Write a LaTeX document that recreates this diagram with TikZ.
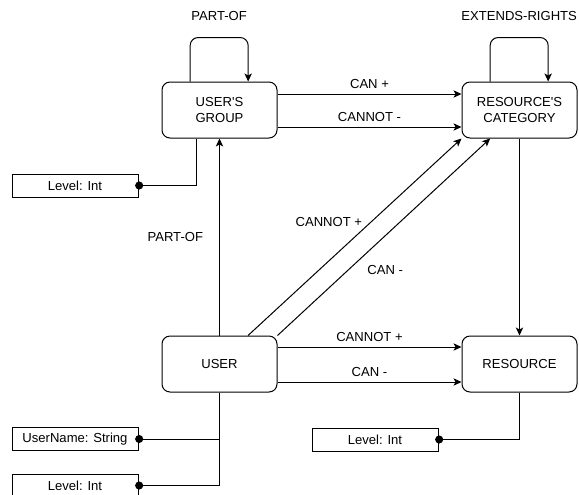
\documentclass[tikz,border=0pt]{standalone}
\usepackage{fontspec}
\setmainfont{Liberation Sans}
\usetikzlibrary{arrows.meta}
\begin{document}
\begin{tikzpicture}[
  x=0.75pt, y=-0.75pt,
  font=\fontsize{9.8}{11.5}\selectfont,
  entity/.style={draw, rounded corners=6pt, align=center, minimum width=86.25pt, minimum height=42pt, line width=0.75pt},
  attr/.style={draw, minimum width=94.5pt, minimum height=17.25pt, inner sep=0pt, line width=0.75pt},
  arrow/.style={-{Stealth[length=6pt, width=5.5pt, inset=1.5pt]}, line width=0.75pt},
  loop/.style={arrow, rounded corners=6pt},
  link/.style={-{Circle[length=6pt]}, shorten >=-2.5pt, line width=0.75pt},
  lbl/.style={inner sep=1pt}
]
\useasboundingbox (0,0) rectangle (579,494);
\node[entity] (grp) at (219.5,110) {USER\textquotesingle S\\GROUP};
\node[entity] (cat) at (519.5,110) {RESOURCE\textquotesingle S\\CATEGORY};
\node[entity] (user) at (219.5,364) {USER};
\node[entity] (res) at (519.5,364) {RESOURCE};
\node[attr] (grplvl) at (75,185.5) {Level: Int};
\node[attr] (uname) at (75,439) {UserName: String};
\node[attr] (userlvl) at (75,485.5) {Level: Int};
\node[attr] (reslvl) at (375,439.5) {Level: Int};
\draw[loop] ([xshift=-22pt]grp.north) -- ++(0,33pt)
  -- node[lbl, above=11pt] {PART-OF} ([xshift=21.5pt, yshift=33pt]grp.north) -- ([xshift=21.5pt]grp.north);
\draw[loop] ([xshift=-22pt]cat.north) -- ++(0,33pt)
  -- node[lbl, above=11pt] {EXTENDS-RIGHTS} ([xshift=21.5pt, yshift=33pt]cat.north) -- ([xshift=21.5pt]cat.north);
\draw[arrow] ([yshift=12pt]grp.east) -- node[lbl, above=2.5pt] {CAN +} ([yshift=12pt]cat.east -| cat.west);
\draw[arrow] ([yshift=-12.75pt]grp.east) -- node[lbl, above=2.5pt] {CANNOT -} ([yshift=-12.75pt]cat.east -| cat.west);
\draw[arrow] ([yshift=12.75pt]user.east) -- node[lbl, above=2.5pt] {CANNOT +} ([yshift=12.75pt]res.east -| res.west);
\draw[arrow] ([yshift=-13.5pt]user.east) -- node[lbl, above=2.5pt] {CAN -} ([yshift=-13.5pt]res.east -| res.west);
\draw[arrow] ([xshift=21.4pt]user.north) -- node[lbl, pos=0.574, anchor=east, xshift=-5pt] {CANNOT +} (cat.south west);
\draw[arrow] (user.north east) -- node[lbl, pos=0.333, anchor=west, xshift=13pt] {CAN -} ([xshift=-22pt]cat.south);
\draw[arrow] (user) -- node[lbl, left=11pt] {PART-OF} (grp);
\draw[arrow] (cat) -- (res);
\draw[link] ([xshift=-17.6pt]grp.south) |- (grplvl.east);
\draw[link] (user.south) |- (uname.east);
\draw[link] (user.south) |- (userlvl.east);
\draw[link] (res.south) |- (reslvl.east);
\end{tikzpicture}
\end{document}
